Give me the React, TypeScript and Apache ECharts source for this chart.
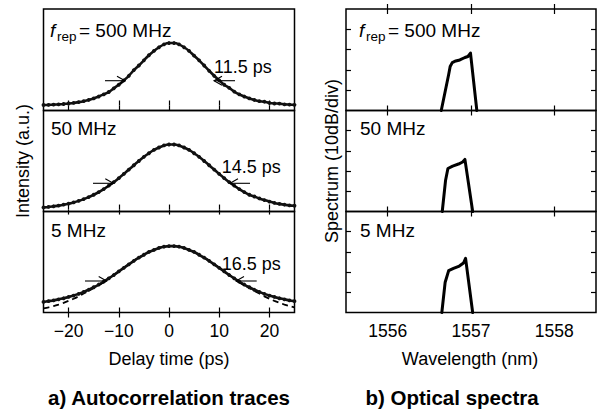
import React, { useEffect, useRef } from "react";
import * as echarts from "echarts";

// ---------------- data ----------------
const delayPs = [-25,-24,-23,-22,-21,-20,-19,-18,-17,-16,-15,-14,-13,-12,-11,-10,-9,-8,-7,-6,-5,-4,-3,-2,-1,0,1,2,3,4,5,6,7,8,9,10,11,12,13,14,15,16,17,18,19,20,21,22,23,24,25];

const ac500 = [0.008,0.010,0.014,0.018,0.024,0.032,0.041,0.054,0.069,0.088,0.113,0.143,0.177,0.215,0.274,0.331,0.400,0.474,0.565,0.638,0.721,0.802,0.871,0.929,0.975,0.997,
  0.997,0.975,0.929,0.871,0.795,0.721,0.638,0.554,0.474,0.400,0.331,0.280,0.222,0.177,0.143,0.113,0.088,0.069,0.060,0.041,0.032,0.030,0.018,0.014,0.010];

const ac50 = [0.033,0.040,0.050,0.060,0.075,0.090,0.110,0.133,0.160,0.191,0.227,0.268,0.314,0.366,0.421,0.482,0.546,0.613,0.680,0.745,0.809,0.864,0.915,0.952,0.984,0.998,
  0.998,0.984,0.952,0.915,0.864,0.809,0.745,0.680,0.613,0.546,0.482,0.421,0.366,0.314,0.268,0.227,0.200,0.170,0.145,0.122,0.102,0.087,0.074,0.064,0.058];

const ac5 = [0.159,0.171,0.182,0.198,0.214,0.234,0.255,0.280,0.310,0.342,0.380,0.421,0.465,0.513,0.564,0.618,0.672,0.725,0.777,0.825,0.869,0.911,0.941,0.971,0.990,0.999,
  0.999,0.990,0.971,0.941,0.911,0.869,0.825,0.777,0.725,0.672,0.618,0.564,0.513,0.465,0.421,0.380,0.342,0.310,0.280,0.255,0.234,0.214,0.198,0.182,0.171];

const ac5Fit = [0.062,0.078,0.097,0.120,0.146,0.175,0.207,0.243,0.285,0.327,0.370,0.415,0.462,0.513,0.564,0.618,0.672,0.725,0.777,0.825,0.869,0.911,0.941,0.971,0.990,0.999,
  0.999,0.990,0.971,0.941,0.911,0.869,0.825,0.777,0.725,0.672,0.618,0.564,0.513,0.462,0.415,0.370,0.327,0.285,0.243,0.207,0.175,0.146,0.120,0.097,0.078];

const wl500 = [1556.643, 1556.732, 1556.750, 1556.775, 1556.817, 1556.866, 1556.927, 1556.963, 1556.994, 1557.07];
const sp500 = [-50, -32.3, -28.3, -26.4, -25.6, -25.1, -23.9, -23.4, -21.7, -50];
const wl50 = [1556.655, 1556.695, 1556.723, 1556.78, 1556.85, 1556.90, 1556.927, 1557.02];
const sp50 = [-50, -34.5, -28.7, -27.5, -26.5, -25.5, -24.2, -50];
const wl5 = [1556.65, 1556.69, 1556.732, 1556.79, 1556.86, 1556.91, 1556.935, 1557.02];
const sp5 = [-50, -35, -29.3, -28.2, -27.0, -25.5, -23.2, -50];

const delayTicks = [-20, -10, 0, 10, 20];
const wavelengthTicks = [1556, 1557, 1558];
const spectrumDivTicks = [-40, -30, -20, -10];

const repLabels = ["500 MHz", "50 MHz", "5 MHz"];
const fwhmLabels = ["11.5 ps", "14.5 ps", "16.5 ps"];

// ---------------- layout ----------------
const FONT = "'Liberation Sans', Arial, Helvetica, sans-serif";
const panelTops = [9, 110.5, 211.5];
const panelHeights = [101.5, 101, 101];
const leftYRange = [[-0.08, 1.54], [-0.03, 1.52], [0, 1.52]];
const labelY = [30, 128.5, 230];
const fwhmPos = [[214, 66.7], [221.7, 166.7], [221.7, 264]];
const arrowPos = [
  { y: 80.7, l: [105, 125], r: [235, 214] },
  { y: 183.3, l: [93, 113.3], r: [250, 230] },
  { y: 281, l: [85, 106.7], r: [256.7, 236] },
];

const minus = (v: number) => (v < 0 ? "\u2212" + Math.abs(v) : String(v));

function buildOption() {
  const grids: any[] = [];
  const xAxes: any[] = [];
  const yAxes: any[] = [];
  const series: any[] = [];
  const tickStyle = { color: "#000", width: 1.2 };

  for (let g = 0; g < 6; g++) {
    const isLeft = g < 3;
    const row = g % 3;
    grids.push({
      left: isLeft ? 43.5 : 346,
      top: panelTops[row],
      width: isLeft ? 251 : 250,
      height: panelHeights[row],
      show: true,
      borderColor: "#000",
      borderWidth: 1.5,
      backgroundColor: "transparent",
    });
    const ticks = isLeft ? delayTicks : wavelengthTicks;
    ["bottom", "top"].forEach((pos) => {
      xAxes.push({
        type: "value",
        gridIndex: g,
        position: pos,
        min: isLeft ? -25 : 1555.5,
        max: isLeft ? 25 : 1558.5,
        axisLine: { show: false },
        splitLine: { show: false },
        axisTick: { show: true, inside: true, length: 5, customValues: ticks, lineStyle: tickStyle },
        axisLabel: {
          show: pos === "bottom" && row === 2,
          customValues: ticks,
          formatter: (v: number) => minus(v),
          color: "#000",
          fontSize: 17.5,
          fontFamily: FONT,
          margin: 9,
        },
      });
    });
    ["left", "right"].forEach((pos) => {
      yAxes.push({
        type: "value",
        gridIndex: g,
        position: pos,
        min: isLeft ? leftYRange[row][0] : -50,
        max: isLeft ? leftYRange[row][1] : 0,
        axisLine: { show: false },
        splitLine: { show: false },
        axisLabel: { show: false },
        axisTick: isLeft
          ? { show: false }
          : { show: true, inside: true, length: 5, customValues: spectrumDivTicks, lineStyle: tickStyle },
      });
    });
  }

  const acSets = [ac500, ac50, ac5];
  acSets.forEach((vals, row) => {
    series.push({
      type: "line",
      name: "measured " + repLabels[row],
      xAxisIndex: row * 2,
      yAxisIndex: row * 2,
      data: delayPs.map((x, i) => [x, vals[i]]),
      symbol: "circle",
      symbolSize: 3.8,
      itemStyle: { color: "#111" },
      lineStyle: { color: "#111", width: 2.6 },
      smooth: 0.2,
      z: 3,
    });
  });
  series.push({
    type: "line",
    name: "fit 5 MHz",
    xAxisIndex: 4,
    yAxisIndex: 4,
    data: delayPs.map((x, i) => [x, ac5Fit[i]]),
    symbol: "none",
    smooth: 0.3,
    lineStyle: { color: "#000", width: 1.8, type: [6, 4] },
    z: 2,
  });

  const spSets = [
    [wl500, sp500],
    [wl50, sp50],
    [wl5, sp5],
  ];
  spSets.forEach(([wl, sp], row) => {
    const g = 3 + row;
    series.push({
      type: "line",
      name: "spectrum " + repLabels[row],
      xAxisIndex: g * 2,
      yAxisIndex: g * 2,
      data: wl.map((x, i) => [x, sp[i]]),
      symbol: "none",
      lineStyle: { color: "#000", width: 3, join: "round", cap: "round" },
      clip: true,
    });
  });

  // graphics
  const graphic: any[] = [];
  const txt = (text: string, x: number, y: number, size: number, extra: any = {}) => ({
    type: "text",
    x,
    y,
    silent: true,
    style: { text, fontSize: size, fontFamily: FONT, fill: "#000", align: "left", verticalAlign: "middle", ...extra },
  });

  // f_rep labels
  [51, 360].forEach((x0) => {
    graphic.push(txt("f", x0 - 1, labelY[0], 19, { fontStyle: "italic" }));
    graphic.push(txt("rep", x0 + 6, labelY[0] + 6, 13.5));
    graphic.push(txt("= " + repLabels[0], x0 + 28, labelY[0], 19));
    graphic.push(txt(repLabels[1], x0, labelY[1], 19));
    graphic.push(txt(repLabels[2], x0, labelY[2], 19));
  });

  fwhmLabels.forEach((t, i) => {
    graphic.push(txt(t, fwhmPos[i][0], fwhmPos[i][1], 18));
  });

  const lineStyle = { stroke: "#000", lineWidth: 1.1, fill: "none" };
  arrowPos.forEach((a) => {
    [a.l, a.r].forEach(([tail, tip]) => {
      const dir = tip > tail ? 1 : -1;
      graphic.push({ type: "polyline", silent: true, z: 10, shape: { points: [[tail, a.y], [tip, a.y]] }, style: lineStyle });
      graphic.push({
        type: "polyline",
        silent: true,
        z: 10,
        shape: { points: [[tip - dir * 8, a.y - 4.5], [tip, a.y], [tip - dir * 8, a.y + 4.5]] },
        style: lineStyle,
      });
    });
  });

  graphic.push(txt("Delay time (ps)", 169, 359, 18, { align: "center" }));
  graphic.push(txt("Wavelength (nm)", 470, 359, 18, { align: "center" }));
  graphic.push({
    type: "text",
    x: 23,
    y: 161,
    rotation: Math.PI / 2,
    silent: true,
    style: { text: "Intensity (a.u.)", fontSize: 18, fontFamily: FONT, fill: "#000", align: "center", verticalAlign: "middle" },
  });
  graphic.push({
    type: "text",
    x: 332,
    y: 161,
    rotation: Math.PI / 2,
    silent: true,
    style: { text: "Spectrum (10dB/div)", fontSize: 18, fontFamily: FONT, fill: "#000", align: "center", verticalAlign: "middle" },
  });
  graphic.push(txt("a) Autocorrelation traces", 169, 397, 20.5, { align: "center", fontWeight: "bold" }));
  graphic.push(txt("b) Optical spectra", 452, 397, 20.5, { align: "center", fontWeight: "bold" }));

  return {
    animation: false,
    backgroundColor: "#fff",
    grid: grids,
    xAxis: xAxes,
    yAxis: yAxes,
    series,
    graphic,
  };
}

export default function App() {
  const ref = useRef<HTMLDivElement>(null);
  useEffect(() => {
    if (!ref.current) return;
    const chart = echarts.init(ref.current, undefined, { renderer: "svg" });
    chart.setOption(buildOption() as any);
    return () => chart.dispose();
  }, []);
  return (
    <div
      ref={ref}
      style={{ position: "fixed", left: 0, top: 0, width: 598, height: 414, background: "#fff" }}
    />
  );
}
